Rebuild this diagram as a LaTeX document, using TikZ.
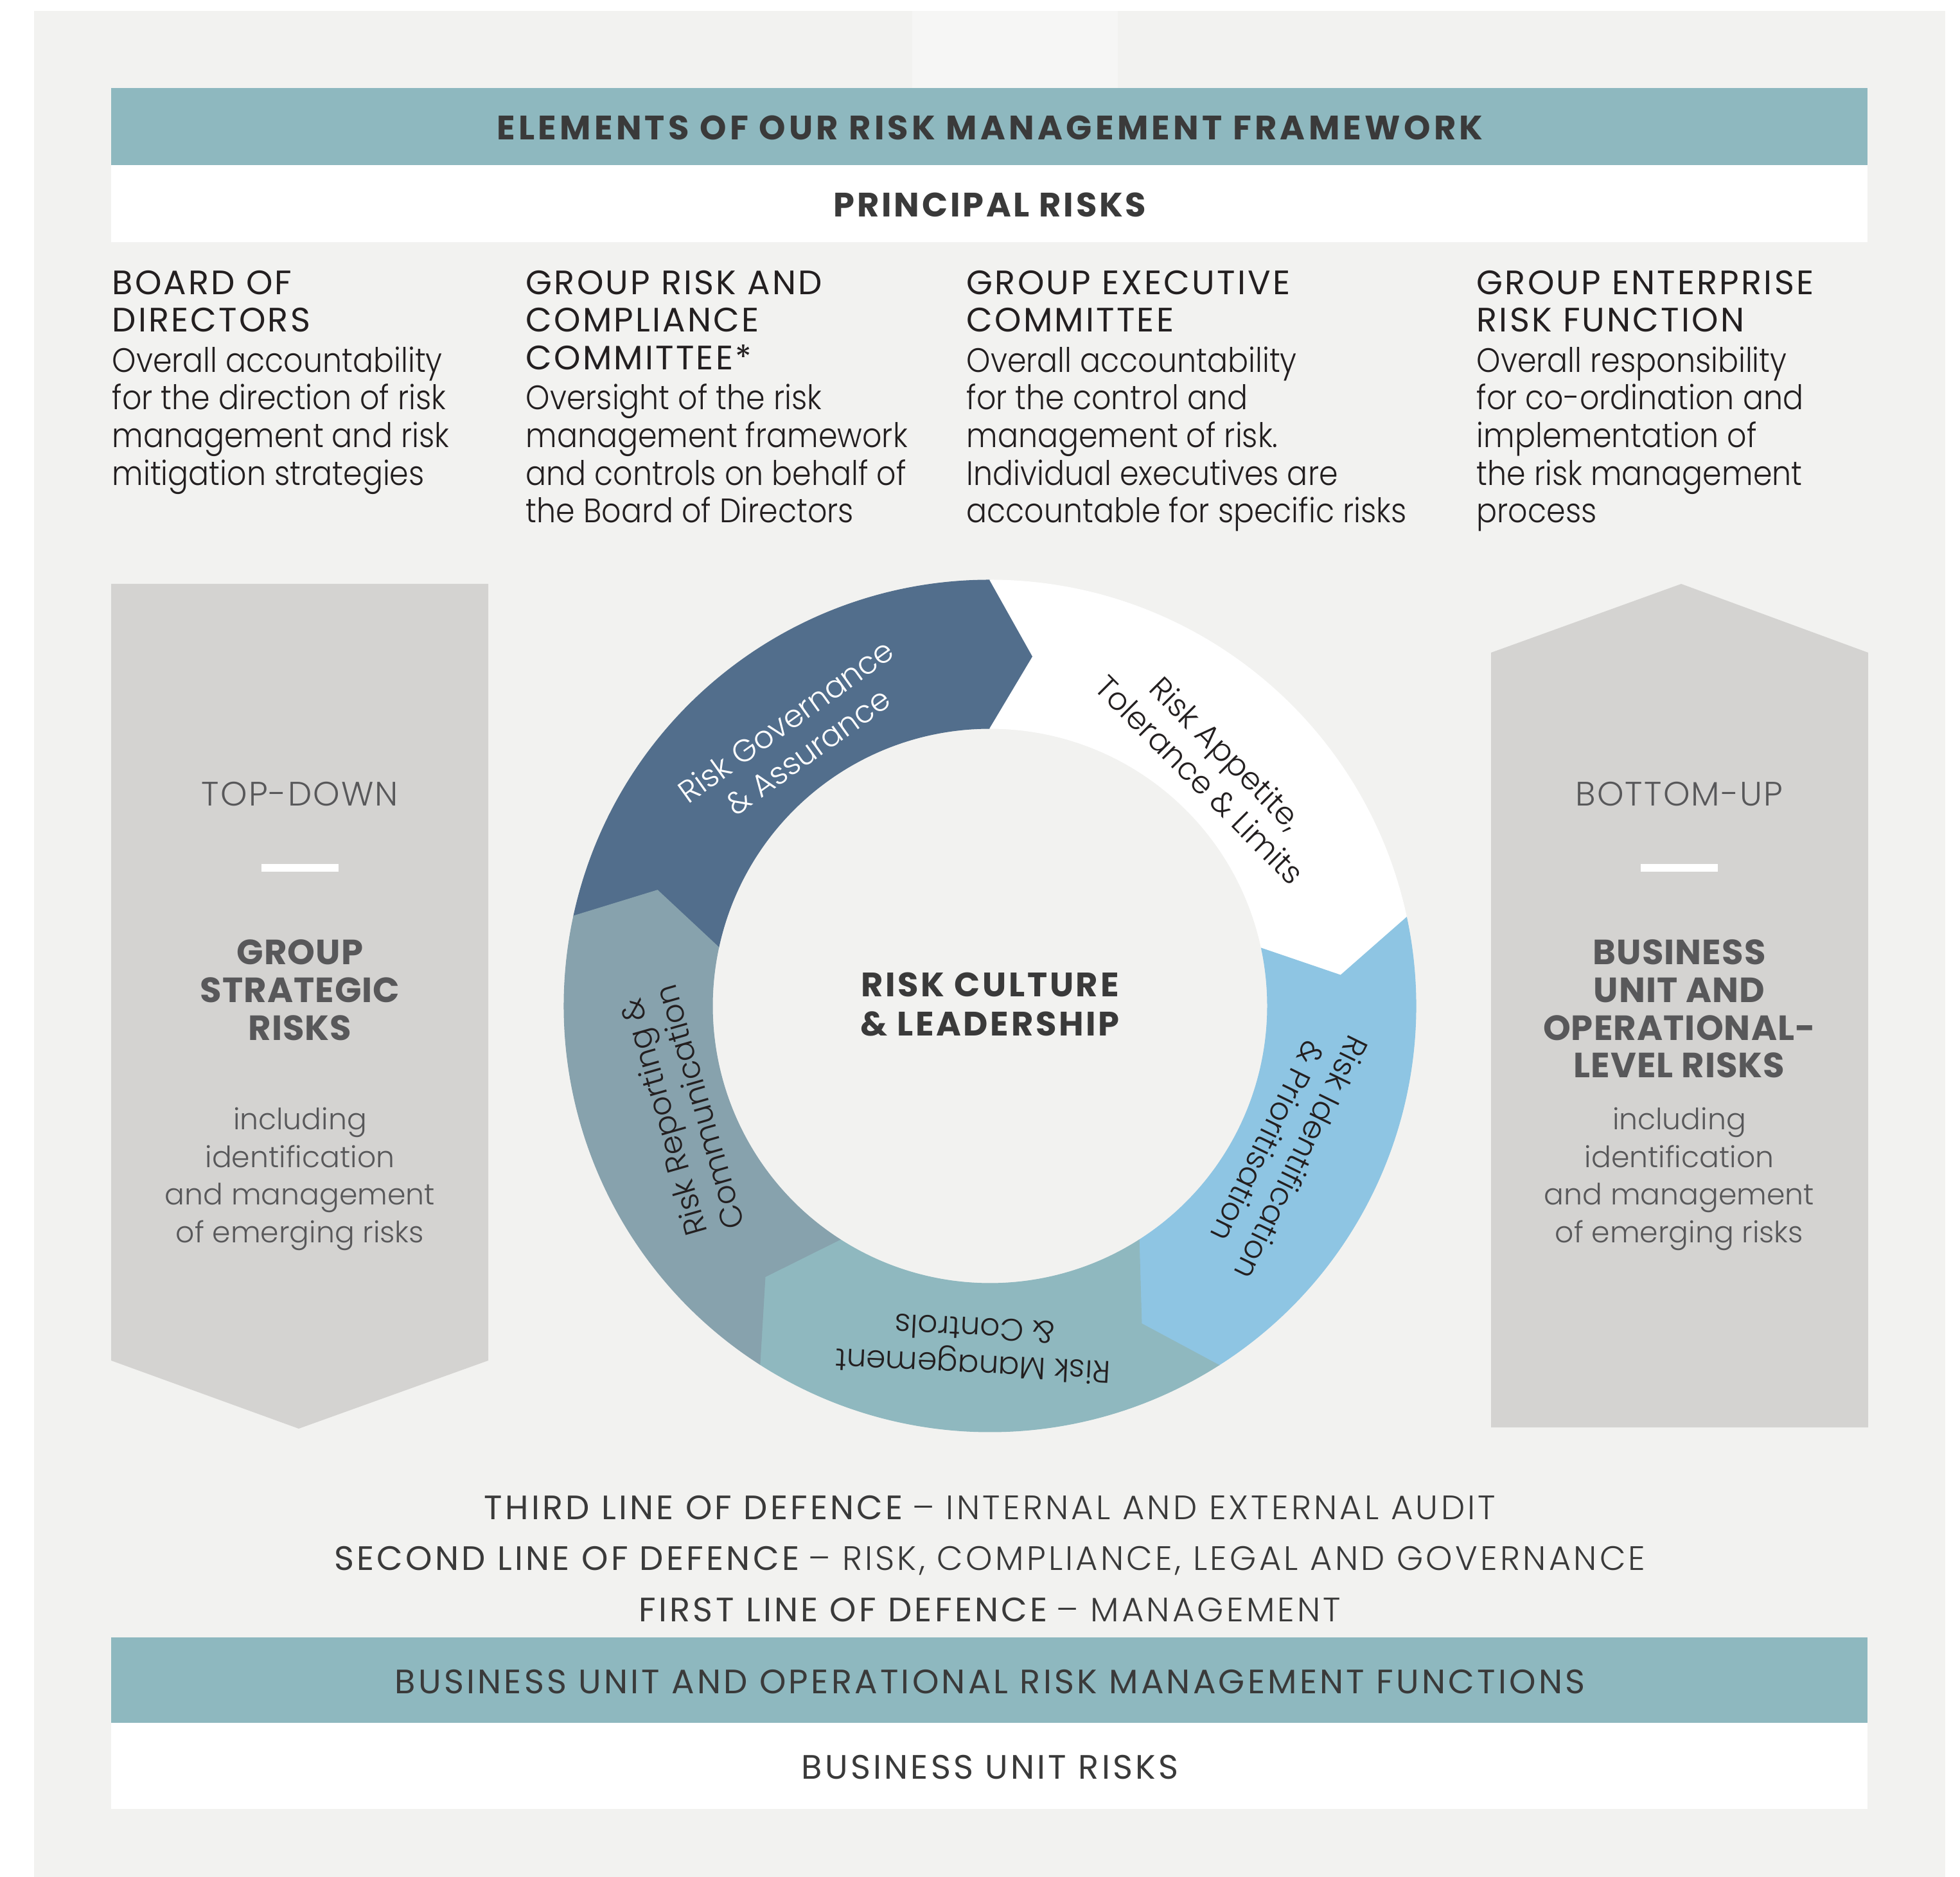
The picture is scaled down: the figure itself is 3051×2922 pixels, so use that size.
\documentclass[tikz,border=0pt]{standalone}
\usepackage{fontspec}
\setmainfont{Poppins}
\IfFontExistsTF{Poppins Light}{%
  \newfontfamily\fbody{Poppins Light}[FakeStretch=0.9]
  \newfontfamily\flight{Poppins Light}[LetterSpace=8]
  \newfontfamily\flabel{Poppins Light}[LetterSpace=4]
  \newfontfamily\fring{Poppins Light}
}{%
  \newfontfamily\fbody{Poppins}[FakeStretch=0.9]
  \newfontfamily\flight{Poppins}[LetterSpace=8]
  \newfontfamily\flabel{Poppins}[LetterSpace=4]
  \newfontfamily\fring{Poppins}
}
\newfontfamily\fhead{Poppins}[LetterSpace=6]
\newfontfamily\fheadw{Poppins}[LetterSpace=8]
\newfontfamily\fbold{Poppins}[LetterSpace=10]
\newfontfamily\fcenter{Poppins}[LetterSpace=7]
\newfontfamily\fboxbold{Poppins}[LetterSpace=2]

\definecolor{bgc}{HTML}{F2F2F0}
\definecolor{topc}{HTML}{F6F6F5}
\definecolor{tealc}{HTML}{8EB8BF}
\definecolor{boxc}{HTML}{D4D3D1}
\definecolor{govc}{HTML}{526E8C}
\definecolor{identc}{HTML}{8EC5E3}
\definecolor{mgmtc}{HTML}{8FB8BF}
\definecolor{repc}{HTML}{87A2AD}
\definecolor{darkc}{HTML}{3A3A3A}
\definecolor{bodyc}{HTML}{231F20}
\definecolor{boxtxt}{HTML}{58585A}

\newcommand\ringseg[3]{%
  \fill[#3, draw=#3, line width=0.3pt] (#1:663) arc[start angle=#1, end angle=#2, radius=663]
    -- ({#2-7}:548) -- (#2:432) arc[start angle=#2, end angle=#1, radius=432]
    -- ({#1-7}:548) -- cycle;}

\tikzset{
  title/.style={font=\fbold\bfseries\fontsize{15}{18}\selectfont, text=darkc, anchor=base, inner sep=0pt},
  centertxt/.style={font=\fcenter\bfseries\fontsize{15}{18}\selectfont, text=darkc, anchor=base, inner sep=0pt},
  colhead/.style={font=\fhead\fontsize{15}{18}\selectfont, text=bodyc, anchor=base west, inner sep=0pt},
  colbody/.style={font=\fbody\fontsize{15}{18}\selectfont, text=bodyc, anchor=base west, inner sep=0pt},
  boxlabel/.style={font=\flabel\fontsize{15}{18}\selectfont, text=boxtxt, anchor=base, inner sep=0pt},
  boxbold/.style={font=\fboxbold\bfseries\fontsize{15.5}{18}\selectfont, text=boxtxt, anchor=base, inner sep=0pt},
  boxbody/.style={font=\fring\fontsize{13}{18}\selectfont, text=boxtxt, anchor=base, inner sep=0pt},
  ringtxt/.style={font=\fring\fontsize{13.8}{16.6}\selectfont, align=center, inner sep=0pt},
  defline/.style={font=\fontsize{15}{18}\selectfont, text=darkc, anchor=base, inner sep=0pt},
  bandtxt/.style={font=\fheadw\fontsize{15}{18}\selectfont, text=darkc, anchor=base, inner sep=0pt}
}

\begin{document}
\begin{tikzpicture}[x=0.01cm,y=-0.01cm]
\useasboundingbox (0,0) rectangle (3051,2922);
\fill[white] (0,0) rectangle (3051,2922);
\fill[bgc] (53,17) rectangle (3028,2922);
\fill[topc] (1420,17) rectangle (1740,137);

% top bands
\fill[tealc] (173,137) rectangle (2907,257);
\fill[white] (173,257) rectangle (2907,377);
\node[title] (ttl) at (1541,218) {ELEMENTS OF OUR RISK MANAGEMENT FRAMEWORK};
\node[centertxt] (prc) at (1541,338) {PRINCIPAL RISKS};

% column 1
\node[colhead] (c1h1) at (174,459) {BOARD OF};
\node[colhead] (c1h2) at (174,517) {DIRECTORS};
\node[colbody] (c1b1) at (174,580) {Overall accountability};
\node[colbody] (c1b2) at (174,638) {for the direction of risk};
\node[colbody] (c1b3) at (174,697) {management and risk};
\node[colbody] (c1b4) at (174,756) {mitigation strategies};
% column 2
\node[colhead] (c2h1) at (818,459) {GROUP RISK AND};
\node[colhead] (c2h2) at (818,517) {COMPLIANCE};
\node[colhead] (c2h3) at (818,576) {COMMITTEE*};
\node[colbody] (c2b1) at (818,638) {Oversight of the risk};
\node[colbody] (c2b2) at (818,697) {management framework};
\node[colbody] (c2b3) at (818,756) {and controls on behalf of};
\node[colbody] (c2b4) at (818,814) {the Board of Directors};
% column 3
\node[colhead] (c3h1) at (1504,459) {GROUP EXECUTIVE};
\node[colhead] (c3h2) at (1504,517) {COMMITTEE};
\node[colbody] (c3b1) at (1504,580) {Overall accountability};
\node[colbody] (c3b2) at (1504,638) {for the control and};
\node[colbody] (c3b3) at (1504,697) {management of risk.};
\node[colbody] (c3b4) at (1504,756) {Individual executives are};
\node[colbody] (c3b5) at (1504,814) {accountable for specific risks};
% column 4
\node[colhead] (c4h1) at (2298,459) {GROUP ENTERPRISE};
\node[colhead] (c4h2) at (2298,517) {RISK FUNCTION};
\node[colbody] (c4b1) at (2298,580) {Overall responsibility};
\node[colbody] (c4b2) at (2298,638) {for co-ordination and};
\node[colbody] (c4b3) at (2298,697) {implementation of};
\node[colbody] (c4b4) at (2298,756) {the risk management};
\node[colbody] (c4b5) at (2298,814) {process};

% left box (top-down)
\fill[boxc] (173,909) -- (760,909) -- (760,2118) -- (465,2224) -- (173,2118) -- cycle;
\node[boxlabel] (tdl) at (467,1254) {TOP-DOWN};
\fill[white] (407,1345) rectangle (527,1357);
\node[boxbold] (lb1) at (467,1501) {GROUP};
\node[boxbold] (lb2) at (467,1560) {STRATEGIC};
\node[boxbold] (lb3) at (467,1619) {RISKS};
\node[boxbody] (li1) at (467,1758) {including};
\node[boxbody] (li2) at (467,1817) {identification};
\node[boxbody] (li3) at (467,1875) {and management};
\node[boxbody] (li4) at (467,1934) {of emerging risks};

% right box (bottom-up)
\fill[boxc] (2321,1016) -- (2617,909) -- (2908,1016) -- (2908,2222) -- (2321,2222) -- cycle;
\node[boxlabel] (bul) at (2614,1254) {BOTTOM-UP};
\fill[white] (2554,1345) rectangle (2674,1357);
\node[boxbold] (rb1) at (2614,1501) {BUSINESS};
\node[boxbold] (rb2) at (2614,1560) {UNIT AND};
\node[boxbold] (rb3) at (2614,1619) {OPERATIONAL-};
\node[boxbold] (rb4) at (2614,1677) {LEVEL RISKS};
\node[boxbody] (ri1) at (2614,1758) {including};
\node[boxbody] (ri2) at (2614,1817) {identification};
\node[boxbody] (ri3) at (2614,1875) {and management};
\node[boxbody] (ri4) at (2614,1934) {of emerging risks};

% ring
\begin{scope}[shift={(1541,1566)},x=0.01cm,y=0.01cm]
  \ringseg{167.8}{90}{govc}
  \ringseg{90}{12}{white}
  \ringseg{12}{-57.5}{identc}
  \ringseg{-57.5}{-122.7}{mgmtc}
  \ringseg{-122.7}{-192.2}{repc}
  \node[ringtxt, text=white, rotate=35.6] (rgov) at (125.6:517) {Risk Governance\\\& Assurance};
  \node[ringtxt, text=bodyc, rotate=-45] (rapp) at (47:510) {Risk Appetite,\\Tolerance \& Limits};
  \node[ringtxt, text=bodyc, rotate=-116] (rid) at (-26:511) {Risk Identification\\\& Prioritisation};
  \node[ringtxt, text=bodyc, rotate=-182.7] (rmg) at (-92.7:533) {Risk Management\\\& Controls};
  \node[ringtxt, text=bodyc, rotate=106] (rrep) at (-161:509) {Risk Reporting \&\\Communication};
\end{scope}
\node[centertxt] (cen1) at (1541,1551) {RISK CULTURE};
\node[centertxt] (cen2) at (1541,1612) {\& LEADERSHIP};

% lines of defence
\node[defline] (d3) at (1541,2365) {{\fheadw THIRD LINE OF DEFENCE} {\flight – INTERNAL AND EXTERNAL AUDIT}};
\node[defline] (d2) at (1541,2444) {{\fheadw SECOND LINE OF DEFENCE} {\flight – RISK, COMPLIANCE, LEGAL AND GOVERNANCE}};
\node[defline] (d1) at (1541,2524) {{\fheadw FIRST LINE OF DEFENCE} {\flight – MANAGEMENT}};

% bottom bands
\fill[tealc] (173,2549) rectangle (2907,2682);
\fill[white] (173,2682) rectangle (2907,2816);
\node[bandtxt] (buf) at (1541,2636) {BUSINESS UNIT AND OPERATIONAL RISK MANAGEMENT FUNCTIONS};
\node[bandtxt] (bur) at (1541,2769) {BUSINESS UNIT RISKS};
\end{tikzpicture}
\end{document}
